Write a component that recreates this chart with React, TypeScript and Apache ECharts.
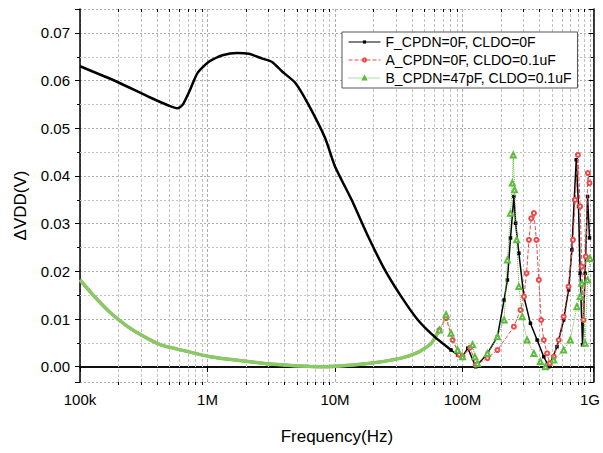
import React, { useEffect, useRef } from "react";
import * as echarts from "echarts";

// ---------- data ----------
const seriesNames = ["F_CPDN=0F, CLDO=0F", "A_CPDN=0F, CLDO=0.1uF", "B_CPDN=47pF, CLDO=0.1uF"];

// F: CPDN=0F, CLDO=0F
const fFreq = [1.0e5, 1.93e5, 3.52e5, 5.02e5, 5.83e5, 6.38e5, 7.2e5, 8.36e5, 1.03e6, 1.31e6, 1.71e6, 2.11e6, 2.69e6, 3.21e6, 3.85e6, 4.89e6, 6.21e6, 8.38e6, 1.0e7, 1.35e7, 1.82e7, 2.46e7, 3.31e7, 4.47e7, 6.03e7, 8.13e7, 9.16e7, 1.0e8, 1.1e8, 1.27e8, 1.57e8, 1.88e8, 2.12e8, 2.25e8, 2.38e8, 2.53e8, 2.61e8, 2.77e8, 3.03e8, 3.41e8, 3.85e8, 4.34e8, 4.75e8, 5.51e8, 6.21e8, 6.79e8, 7.21e8, 7.52e8, 7.8e8, 8.13e8, 8.37e8, 8.74e8, 9.16e8, 9.57e8, 9.91e8];
const fValue = [0.063, 0.0598, 0.0565, 0.0547, 0.0542, 0.0549, 0.0577, 0.0616, 0.064, 0.0653, 0.0658, 0.0656, 0.0646, 0.0639, 0.0619, 0.0595, 0.0549, 0.0479, 0.042, 0.035, 0.0273, 0.0203, 0.0147, 0.0098, 0.0063, 0.0035, 0.0025, 0.0021, 0.0039, 0.0, 0.0028, 0.0063, 0.014, 0.0182, 0.027, 0.0357, 0.0301, 0.0238, 0.0147, 0.0091, 0.0056, 0.0021, 0.0, 0.0042, 0.0098, 0.0161, 0.0245, 0.035, 0.0434, 0.0336, 0.0196, 0.0046, 0.0196, 0.0357, 0.027];

// A and B coincide below ~66 MHz
const lowFreq = [1.0e5, 1.3e5, 1.75e5, 2.37e5, 3.19e5, 4.3e5, 5.81e5, 1.05e6, 1.92e6, 3.29e6, 7.43e6, 1.82e7, 3.31e7, 4.47e7, 5.68e7, 6.59e7];
const lowValue = [0.0182, 0.0147, 0.0112, 0.0084, 0.0063, 0.0046, 0.0037, 0.0021, 0.0012, 0.0005, 0.0, 0.0007, 0.0018, 0.003, 0.0049, 0.0077];

// A: CPDN=0F, CLDO=0.1uF (above ~66 MHz)
const aFreq = [6.59e7, 7.43e7, 8.37e7, 9.44e7, 1.0e8, 1.15e8, 1.27e8, 1.57e8, 1.88e8, 2.53e8, 2.85e8, 3.03e8, 3.18e8, 3.32e8, 3.46e8, 3.63e8, 3.8e8, 3.97e8, 4.14e8, 4.34e8, 4.61e8, 4.83e8, 5.2e8, 5.68e8, 6.21e8, 6.79e8, 7.35e8, 7.66e8, 8.04e8, 8.37e8, 8.63e8, 8.89e8, 9.27e8, 9.62e8, 9.91e8];
const aValue = [0.0077, 0.0102, 0.0056, 0.0025, 0.0022, 0.004, 0.0004, 0.0018, 0.0035, 0.0084, 0.0119, 0.0147, 0.0196, 0.0266, 0.0311, 0.0322, 0.0266, 0.0182, 0.0098, 0.0056, 0.0028, 0.0007, 0.0021, 0.0056, 0.0105, 0.0168, 0.0266, 0.035, 0.0444, 0.0336, 0.021, 0.0098, 0.0231, 0.0406, 0.0385];

// B: CPDN=47pF, CLDO=0.1uF (above ~66 MHz)
const bFreq = [6.59e7, 7.43e7, 8.13e7, 9.16e7, 1.0e8, 1.2e8, 1.25e8, 1.31e8, 1.57e8, 1.88e8, 2.12e8, 2.25e8, 2.38e8, 2.46e8, 2.5e8, 2.56e8, 2.66e8, 2.77e8, 2.94e8, 3.21e8, 3.63e8, 4.08e8, 4.47e8, 5.2e8, 6.21e8, 7.0e8, 7.89e8, 8.37e8, 8.63e8, 9.16e8, 9.57e8, 1.0e9];
const bValue = [0.0077, 0.0109, 0.007, 0.0035, 0.0021, 0.0046, 0.0021, 0.0007, 0.0028, 0.0063, 0.0098, 0.0224, 0.0322, 0.0385, 0.0444, 0.0371, 0.0266, 0.0168, 0.0105, 0.0056, 0.0028, 0.0011, 0.0, 0.0014, 0.0035, 0.0056, 0.0126, 0.0147, 0.0175, 0.0049, 0.0182, 0.0227];

// axis ticks
const xTickValues = [1e5, 1e6, 1e7, 1e8, 1e9];
const xTickLabels = ["100k", "1M", "10M", "100M", "1G"];
const xMinorTicks = [
  2e5, 3e5, 4e5, 5e5, 6e5, 7e5, 8e5, 9e5,
  2e6, 3e6, 4e6, 5e6, 6e6, 7e6, 8e6, 9e6,
  2e7, 3e7, 4e7, 5e7, 6e7, 7e7, 8e7, 9e7,
  2e8, 3e8, 4e8, 5e8, 6e8, 7e8, 8e8, 9e8,
];
const yMinorTicks = [0.005, 0.015, 0.025, 0.035, 0.045, 0.055, 0.065];

const X_MIN = 1e5;
const X_MAX = 1.07e9;
const Y_MIN = -0.0032;
const Y_MAX = 0.075;
const F_SPLIT = 8.13e7; // where the dense black trace turns into marked points
const FONT = 'Arial, "Liberation Sans", sans-serif';

const zip = (xs: number[], ys: number[]) => xs.map((x, i) => [x, ys[i]]);
const fPairs = zip(fFreq, fValue);
const fBase = fPairs.filter((p) => p[0] <= F_SPLIT);
const fDetail = fPairs.filter((p) => p[0] >= F_SPLIT);

function xLabel(v: number) {
  for (let i = 0; i < xTickValues.length; i++) {
    if (Math.abs(v / xTickValues[i] - 1) < 1e-6) return xTickLabels[i];
  }
  return "";
}
function yLabel(v: number) {
  const k = v * 100;
  if (Math.abs(k - Math.round(k)) < 1e-6 && v > -1e-9) return v.toFixed(2);
  return "";
}

const MINOR_GRID = "#c2c2c2";
const MAJOR_GRID = "#ababab";

export default function App() {
  const ref = useRef<HTMLDivElement>(null);
  useEffect(() => {
    if (!ref.current) return;
    const chart = echarts.init(ref.current, null, { renderer: "svg" });
    const option: any = {
      animation: false,
      backgroundColor: "#ffffff",
      textStyle: { fontFamily: FONT },
      grid: { left: 80, right: 6, top: 9, bottom: 71, containLabel: false },
      legend: {
        data: seriesNames.map((n) => ({
          name: n,
          lineStyle: { width: 1 },
        })),
        orient: "vertical",
        left: 342,
        top: 32,
        padding: [3, 6, 3, 6],
        itemGap: 4,
        itemWidth: 32,
        itemHeight: 4,
        borderColor: "#555",
        borderWidth: 1,
        backgroundColor: "#fff",
        borderRadius: 0,
        textStyle: { fontSize: 14, fontFamily: FONT, color: "#000", lineHeight: 14 },
      },
      xAxis: [
        {
          type: "log",
          logBase: 10,
          min: X_MIN,
          max: X_MAX,
          name: "Frequency(Hz)",
          nameLocation: "middle",
          nameGap: 46,
          nameTextStyle: { fontSize: 17, fontFamily: FONT, color: "#000" },
          axisLine: { show: true, lineStyle: { color: "#000", width: 1.5 } },
          axisTick: { show: true, inside: false, length: 5, lineStyle: { color: "#000", width: 1 } },
          axisLabel: { formatter: xLabel, fontSize: 15, fontFamily: FONT, color: "#000", margin: 10 },
          splitLine: { show: true, lineStyle: { color: MAJOR_GRID, type: [3, 2], width: 1 } },
          minorTick: { show: false },
        },
        {
          type: "log",
          logBase: 10,
          min: X_MIN,
          max: X_MAX,
          position: "top",
          axisLine: { show: true, lineStyle: { color: "#000", width: 1.5 } },
          axisTick: { show: true, inside: true, length: 5, lineStyle: { color: "#000", width: 1 } },
          axisLabel: { show: false },
          splitLine: { show: false },
        },
      ],
      yAxis: [
        {
          type: "value",
          min: Y_MIN,
          max: Y_MAX,
          splitNumber: 8,
          name: "ΔVDD(V)",
          nameLocation: "middle",
          nameGap: 51,
          nameRotate: 90,
          nameTextStyle: { fontSize: 17, fontFamily: FONT, color: "#000", padding: [0, 20, 0, 0] },
          axisLine: { show: true, lineStyle: { color: "#000", width: 1.5 } },
          axisTick: { show: true, inside: false, length: 5, lineStyle: { color: "#000", width: 1 } },
          axisLabel: { formatter: yLabel, fontSize: 15, fontFamily: FONT, color: "#000", margin: 10 },
          splitLine: { show: true, lineStyle: { color: MAJOR_GRID, type: [2, 2], width: 1 } },
        },
        {
          type: "value",
          min: Y_MIN,
          max: Y_MAX,
          splitNumber: 8,
          position: "right",
          axisLine: { show: true, lineStyle: { color: "#000", width: 1.5 } },
          axisTick: { show: true, inside: true, length: 5, lineStyle: { color: "#000", width: 1 } },
          axisLabel: { show: false },
          splitLine: { show: false },
        },
      ],
      series: [
        {
          type: "custom",
          name: "xminor",
          silent: true,
          z: 1,
          data: xMinorTicks.map((f) => [f, 0]),
          renderItem: (params: any, api: any) => {
            const f = api.value(0);
            const p0 = api.coord([f, Y_MIN]);
            const p1 = api.coord([f, Y_MAX]);
            const x = Math.round(p0[0]) + 0.5;
            return {
              type: "group",
              children: [
                { type: "line", shape: { x1: x, y1: p0[1], x2: x, y2: p1[1] }, style: { stroke: MINOR_GRID, lineWidth: 1, lineDash: [3, 2] } },
                { type: "line", shape: { x1: x, y1: p0[1], x2: x, y2: p0[1] + 3 }, style: { stroke: "#000", lineWidth: 1 } },
                { type: "line", shape: { x1: x, y1: p1[1], x2: x, y2: p1[1] + 3 }, style: { stroke: "#000", lineWidth: 1 } },
              ],
            };
          },
        },
        {
          type: "custom",
          name: "yminor",
          silent: true,
          z: 1,
          data: yMinorTicks.map((v) => [X_MIN, v]),
          renderItem: (params: any, api: any) => {
            const v = api.value(1);
            const p0 = api.coord([X_MIN, v]);
            const p1 = api.coord([X_MAX, v]);
            const y = Math.round(p0[1]) + 0.5;
            return {
              type: "group",
              children: [
                { type: "line", shape: { x1: p0[0], y1: y, x2: p1[0], y2: y }, style: { stroke: MINOR_GRID, lineWidth: 1, lineDash: [2, 2] } },
                { type: "line", shape: { x1: p0[0] - 3, y1: y, x2: p0[0], y2: y }, style: { stroke: "#000", lineWidth: 1 } },
                { type: "line", shape: { x1: p1[0] - 3, y1: y, x2: p1[0], y2: y }, style: { stroke: "#000", lineWidth: 1 } },
              ],
            };
          },
        },
        {
          name: seriesNames[0],
          type: "line",
          z: 3,
          data: fDetail,
          symbol: "rect",
          symbolSize: 3.5,
          showSymbol: true,
          lineStyle: { color: "#000", width: 1.5 },
          itemStyle: { color: "#000" },
        },
        {
          name: seriesNames[1],
          type: "line",
          z: 4,
          data: zip(aFreq, aValue),
          symbol: "emptyCircle",
          symbolSize: 4,
          lineStyle: { color: "#f04848", width: 1, type: "dashed" },
          itemStyle: { color: "#f04848", borderWidth: 1 },
        },
        {
          name: seriesNames[2],
          type: "line",
          z: 5,
          data: zip(bFreq, bValue),
          symbol: "emptyTriangle",
          symbolSize: 5,
          lineStyle: { color: "#5fbb40", width: 1, type: "dotted" },
          itemStyle: { color: "#5fbb40", borderWidth: 1 },
        },
        {
          name: seriesNames[0],
          type: "line",
          z: 3,
          data: fBase,
          symbol: "none",
          smooth: 0.2,
          lineStyle: { color: "#000", width: 2.5 },
        },
        {
          name: seriesNames[1],
          type: "line",
          z: 2,
          data: zip(lowFreq, lowValue),
          symbol: "none",
          smooth: 0.2,
          lineStyle: { color: "#f04848", width: 3 },
        },
        {
          name: seriesNames[2],
          type: "line",
          z: 2,
          data: zip(lowFreq, lowValue),
          symbol: "none",
          smooth: 0.2,
          lineStyle: { color: "#86cc66", width: 3.5 },
        },
      ],
    };
    chart.setOption(option);
    return () => chart.dispose();
  }, []);
  return <div ref={ref} style={{ position: "absolute", left: 0, top: 0, width: 603, height: 453 }} />;
}
